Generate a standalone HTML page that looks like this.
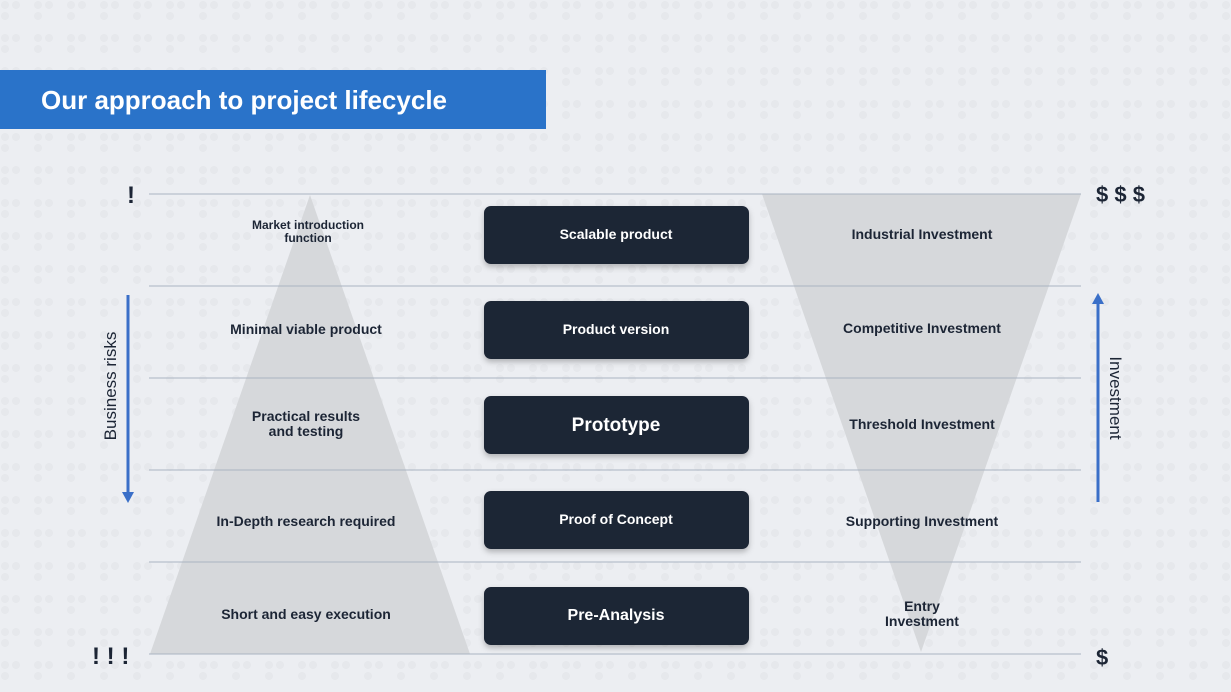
<!DOCTYPE html>
<html><head><meta charset="utf-8"><style>
html,body{margin:0;padding:0;}
body{width:1231px;height:692px;overflow:hidden;background:#eceef2;font-family:"Liberation Sans",sans-serif;}
</style></head><body>
<svg width="1231" height="692" xmlns="http://www.w3.org/2000/svg" style="position:absolute;left:0;top:0">
<defs>
<pattern id="dots" width="33" height="33" patternUnits="userSpaceOnUse">
<circle cx="5" cy="5" r="4" fill="#e6e8ec"/><circle cx="16" cy="5" r="4" fill="#e6e8ec"/>
<circle cx="5" cy="16" r="4" fill="#e6e8ec"/>
</pattern>
<filter id="sh" x="-10%" y="-20%" width="120%" height="150%"><feDropShadow dx="0" dy="3" stdDeviation="3" flood-color="#000" flood-opacity="0.25"/></filter>
</defs>
<rect width="1231" height="692" fill="url(#dots)"/>
<rect x="0" y="70" width="546" height="59" fill="#2a73c9"/>
<text x="41" y="109" font-size="26" font-weight="bold" fill="#fff">Our approach to project lifecycle</text>
<polygon points="310,195 150,654 470,654" fill="#d6d8db"/>
<polygon points="762,194 1081,194 921,652" fill="#d6d8db"/>
<g stroke="#aab4c2" stroke-width="1">
<line x1="149" y1="194" x2="1081" y2="194"/><line x1="149" y1="286" x2="1081" y2="286"/>
<line x1="149" y1="378" x2="1081" y2="378"/><line x1="149" y1="470" x2="1081" y2="470"/>
<line x1="149" y1="562" x2="1081" y2="562"/><line x1="149" y1="654" x2="1081" y2="654"/>
</g>
<g fill="#1c2535" filter="url(#sh)">
<rect x="484" y="206" width="265" height="58" rx="7"/>
<rect x="484" y="301" width="265" height="58" rx="7"/>
<rect x="484" y="396" width="265" height="58" rx="7"/>
<rect x="484" y="491" width="265" height="58" rx="7"/>
<rect x="484" y="587" width="265" height="58" rx="7"/>
</g>
<g fill="#fff" font-weight="bold" text-anchor="middle">
<text x="616" y="239" font-size="14">Scalable product</text>
<text x="616" y="334" font-size="14">Product version</text>
<text x="616" y="431" font-size="19">Prototype</text>
<text x="616" y="524" font-size="14">Proof of Concept</text>
<text x="616" y="620" font-size="16">Pre-Analysis</text>
</g>
<g fill="#1c2535" font-weight="bold" text-anchor="middle" font-size="14">
<text x="308" y="229" font-size="12">Market introduction</text>
<text x="308" y="242" font-size="12">function</text>
<text x="306" y="334">Minimal viable product</text>
<text x="306" y="421">Practical results</text>
<text x="306" y="436">and testing</text>
<text x="306" y="526">In-Depth research required</text>
<text x="306" y="619">Short and easy execution</text>
<text x="922" y="239">Industrial Investment</text>
<text x="922" y="333">Competitive Investment</text>
<text x="922" y="429">Threshold Investment</text>
<text x="922" y="526">Supporting Investment</text>
<text x="922" y="611">Entry</text>
<text x="922" y="626">Investment</text>
</g>
<g fill="#1c2535" font-weight="bold" font-size="24">
<text x="127" y="203">!</text>
<text x="92" y="664">! ! !</text>
<text x="1096" y="202" font-size="22">$ $ $</text>
<text x="1096" y="665" font-size="22">$</text>
</g>
<line x1="128" y1="295" x2="128" y2="494" stroke="#3a6fc8" stroke-width="3"/>
<polygon points="122,492 134,492 128,503" fill="#3a6fc8"/>
<text transform="translate(116,386) rotate(-90)" text-anchor="middle" font-size="17" fill="#1c2535">Business risks</text>
<line x1="1098" y1="502" x2="1098" y2="302" stroke="#3a6fc8" stroke-width="3"/>
<polygon points="1092,304 1104,304 1098,293" fill="#3a6fc8"/>
<text transform="translate(1110,398) rotate(90)" text-anchor="middle" font-size="17" fill="#1c2535">Investment</text>
</svg>
</body></html>
